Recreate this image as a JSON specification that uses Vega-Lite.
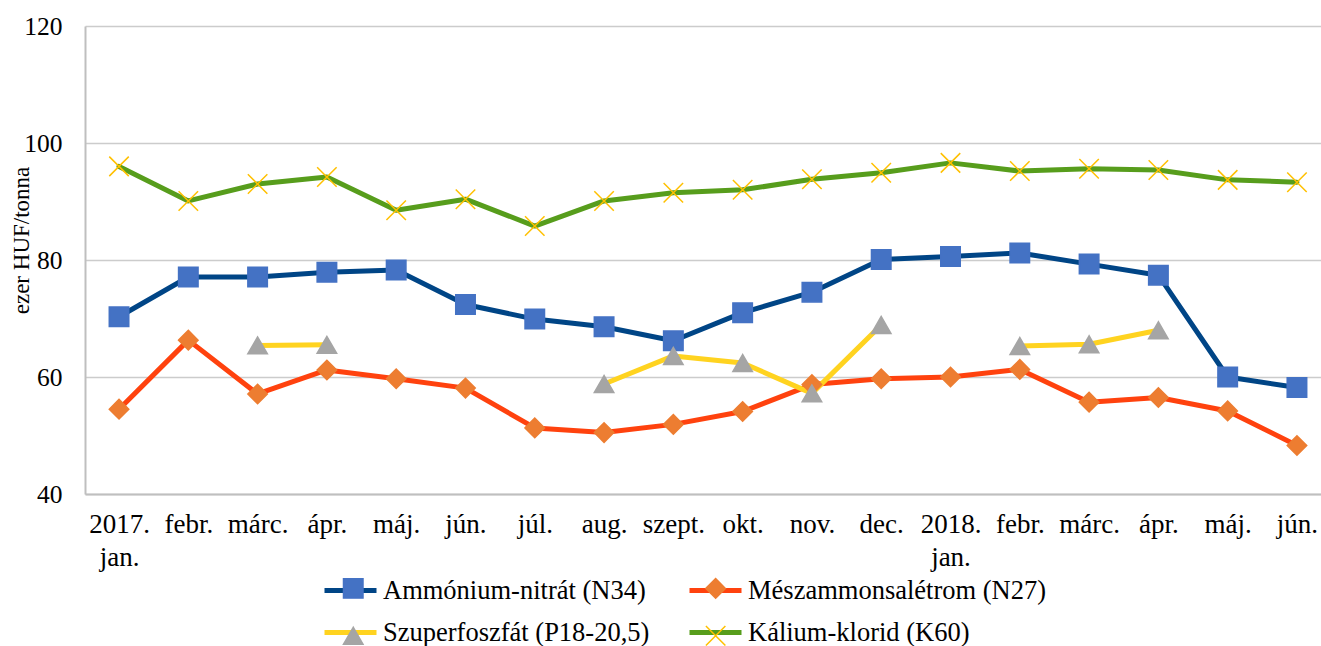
{
  "$schema": "https://vega.github.io/schema/vega-lite/v6.json",
  "width": 1236,
  "height": 468,
  "autosize": {"type": "none"},
  "padding": {"left": 85, "top": 26, "right": 0, "bottom": 152},
  "background": "white",
  "config": {
    "view": {"stroke": null},
    "font": "Liberation Serif",
    "legend": {"padding": 0}
  },
  "data": {
    "values": [
      {"m": "2017-01", "s": "Ammónium-nitrát (N34)", "v": 70.3, "g": "A"},
      {"m": "2017-02", "s": "Ammónium-nitrát (N34)", "v": 77.1, "g": "A"},
      {"m": "2017-03", "s": "Ammónium-nitrát (N34)", "v": 77.1, "g": "A"},
      {"m": "2017-04", "s": "Ammónium-nitrát (N34)", "v": 77.9, "g": "A"},
      {"m": "2017-05", "s": "Ammónium-nitrát (N34)", "v": 78.3, "g": "A"},
      {"m": "2017-06", "s": "Ammónium-nitrát (N34)", "v": 72.4, "g": "A"},
      {"m": "2017-07", "s": "Ammónium-nitrát (N34)", "v": 69.9, "g": "A"},
      {"m": "2017-08", "s": "Ammónium-nitrát (N34)", "v": 68.6, "g": "A"},
      {"m": "2017-09", "s": "Ammónium-nitrát (N34)", "v": 66.2, "g": "A"},
      {"m": "2017-10", "s": "Ammónium-nitrát (N34)", "v": 71.0, "g": "A"},
      {"m": "2017-11", "s": "Ammónium-nitrát (N34)", "v": 74.5, "g": "A"},
      {"m": "2017-12", "s": "Ammónium-nitrát (N34)", "v": 80.1, "g": "A"},
      {"m": "2018-01", "s": "Ammónium-nitrát (N34)", "v": 80.6, "g": "A"},
      {"m": "2018-02", "s": "Ammónium-nitrát (N34)", "v": 81.2, "g": "A"},
      {"m": "2018-03", "s": "Ammónium-nitrát (N34)", "v": 79.3, "g": "A"},
      {"m": "2018-04", "s": "Ammónium-nitrát (N34)", "v": 77.4, "g": "A"},
      {"m": "2018-05", "s": "Ammónium-nitrát (N34)", "v": 60.0, "g": "A"},
      {"m": "2018-06", "s": "Ammónium-nitrát (N34)", "v": 58.2, "g": "A"},
      {"m": "2017-01", "s": "Mészammonsalétrom (N27)", "v": 54.5, "g": "M"},
      {"m": "2017-02", "s": "Mészammonsalétrom (N27)", "v": 66.3, "g": "M"},
      {"m": "2017-03", "s": "Mészammonsalétrom (N27)", "v": 57.1, "g": "M"},
      {"m": "2017-04", "s": "Mészammonsalétrom (N27)", "v": 61.2, "g": "M"},
      {"m": "2017-05", "s": "Mészammonsalétrom (N27)", "v": 59.7, "g": "M"},
      {"m": "2017-06", "s": "Mészammonsalétrom (N27)", "v": 58.1, "g": "M"},
      {"m": "2017-07", "s": "Mészammonsalétrom (N27)", "v": 51.3, "g": "M"},
      {"m": "2017-08", "s": "Mészammonsalétrom (N27)", "v": 50.5, "g": "M"},
      {"m": "2017-09", "s": "Mészammonsalétrom (N27)", "v": 51.9, "g": "M"},
      {"m": "2017-10", "s": "Mészammonsalétrom (N27)", "v": 54.1, "g": "M"},
      {"m": "2017-11", "s": "Mészammonsalétrom (N27)", "v": 58.7, "g": "M"},
      {"m": "2017-12", "s": "Mészammonsalétrom (N27)", "v": 59.7, "g": "M"},
      {"m": "2018-01", "s": "Mészammonsalétrom (N27)", "v": 60.0, "g": "M"},
      {"m": "2018-02", "s": "Mészammonsalétrom (N27)", "v": 61.3, "g": "M"},
      {"m": "2018-03", "s": "Mészammonsalétrom (N27)", "v": 55.7, "g": "M"},
      {"m": "2018-04", "s": "Mészammonsalétrom (N27)", "v": 56.5, "g": "M"},
      {"m": "2018-05", "s": "Mészammonsalétrom (N27)", "v": 54.2, "g": "M"},
      {"m": "2018-06", "s": "Mészammonsalétrom (N27)", "v": 48.3, "g": "M"},
      {"m": "2017-03", "s": "Szuperfoszfát (P18-20,5)", "v": 65.4, "g": "P1"},
      {"m": "2017-04", "s": "Szuperfoszfát (P18-20,5)", "v": 65.5, "g": "P1"},
      {"m": "2017-08", "s": "Szuperfoszfát (P18-20,5)", "v": 58.8, "g": "P2"},
      {"m": "2017-09", "s": "Szuperfoszfát (P18-20,5)", "v": 63.6, "g": "P2"},
      {"m": "2017-10", "s": "Szuperfoszfát (P18-20,5)", "v": 62.4, "g": "P2"},
      {"m": "2017-11", "s": "Szuperfoszfát (P18-20,5)", "v": 57.2, "g": "P2"},
      {"m": "2017-12", "s": "Szuperfoszfát (P18-20,5)", "v": 68.9, "g": "P2"},
      {"m": "2018-02", "s": "Szuperfoszfát (P18-20,5)", "v": 65.3, "g": "P3"},
      {"m": "2018-03", "s": "Szuperfoszfát (P18-20,5)", "v": 65.6, "g": "P3"},
      {"m": "2018-04", "s": "Szuperfoszfát (P18-20,5)", "v": 68.0, "g": "P3"},
      {"m": "2017-01", "s": "Kálium-klorid (K60)", "v": 96.0, "g": "K"},
      {"m": "2017-02", "s": "Kálium-klorid (K60)", "v": 90.1, "g": "K"},
      {"m": "2017-03", "s": "Kálium-klorid (K60)", "v": 93.0, "g": "K"},
      {"m": "2017-04", "s": "Kálium-klorid (K60)", "v": 94.2, "g": "K"},
      {"m": "2017-05", "s": "Kálium-klorid (K60)", "v": 88.5, "g": "K"},
      {"m": "2017-06", "s": "Kálium-klorid (K60)", "v": 90.4, "g": "K"},
      {"m": "2017-07", "s": "Kálium-klorid (K60)", "v": 85.8, "g": "K"},
      {"m": "2017-08", "s": "Kálium-klorid (K60)", "v": 90.1, "g": "K"},
      {"m": "2017-09", "s": "Kálium-klorid (K60)", "v": 91.5, "g": "K"},
      {"m": "2017-10", "s": "Kálium-klorid (K60)", "v": 92.0, "g": "K"},
      {"m": "2017-11", "s": "Kálium-klorid (K60)", "v": 93.8, "g": "K"},
      {"m": "2017-12", "s": "Kálium-klorid (K60)", "v": 94.9, "g": "K"},
      {"m": "2018-01", "s": "Kálium-klorid (K60)", "v": 96.6, "g": "K"},
      {"m": "2018-02", "s": "Kálium-klorid (K60)", "v": 95.2, "g": "K"},
      {"m": "2018-03", "s": "Kálium-klorid (K60)", "v": 95.6, "g": "K"},
      {"m": "2018-04", "s": "Kálium-klorid (K60)", "v": 95.4, "g": "K"},
      {"m": "2018-05", "s": "Kálium-klorid (K60)", "v": 93.7, "g": "K"},
      {"m": "2018-06", "s": "Kálium-klorid (K60)", "v": 93.3, "g": "K"}
    ]
  },
  "encoding": {
    "x": {
      "field": "m",
      "type": "ordinal",
      "scale": {"type": "point", "padding": 0.419, "align": 0.586},
      "axis": {
        "title": null,
        "labelAngle": 0,
        "labelFont": "Liberation Serif",
        "labelFontSize": 27,
        "labelColor": "#000000",
        "labelPadding": 17,
        "labelLineHeight": 33,
        "labelOverlap": false,
        "labelFlush": false,
        "labelBound": false,
        "ticks": false,
        "grid": false,
        "domainColor": "#bfbfbf",
        "domainWidth": 2,
        "labelExpr": "slice(datum.value,5)=='01' ? [slice(datum.value,0,4)+'.', 'jan.'] : ['','febr.','márc.','ápr.','máj.','jún.','júl.','aug.','szept.','okt.','nov.','dec.'][toNumber(slice(datum.value,5))-1]"
      }
    },
    "y": {
      "field": "v",
      "type": "quantitative",
      "scale": {"domain": [40, 120], "nice": false, "zero": false},
      "axis": {
        "values": [40, 60, 80, 100, 120],
        "title": "ezer HUF/tonna",
        "titleFont": "Liberation Serif",
        "titleFontSize": 23,
        "titleFontWeight": "normal",
        "titleColor": "#000000",
        "titleBaseline": "alphabetic",
        "titleX": -57,
        "titleY": 214,
        "labelFont": "Liberation Serif",
        "labelFontSize": 25.5,
        "labelColor": "#000000",
        "labelPadding": 23,
        "ticks": false,
        "grid": true,
        "gridColor": "#cccccc",
        "gridWidth": 1.5,
        "domainColor": "#bfbfbf",
        "domainWidth": 2
      }
    }
  },
  "layer": [
    {
      "mark": {"type": "line", "strokeWidth": 5, "strokeJoin": "round", "strokeCap": "round"},
      "encoding": {
        "color": {
          "field": "s",
          "type": "nominal",
          "scale": {
            "domain": ["Ammónium-nitrát (N34)", "Mészammonsalétrom (N27)", "Szuperfoszfát (P18-20,5)", "Kálium-klorid (K60)"],
            "range": ["#004586", "#ff420e", "#ffd320", "#579d1c"]
          },
          "legend": {
            "title": null,
            "orient": "none",
            "direction": "horizontal",
            "legendX": 237,
            "legendY": 536,
            "columns": 2,
            "columnPadding": 29,
            "rowPadding": -6,
            "symbolType": "stroke",
            "symbolSize": 2704,
            "symbolStrokeWidth": 5,
            "labelOffset": 4,
            "labelFont": "Liberation Serif",
            "labelFontSize": 26.5,
            "labelColor": "#000000",
            "labelLimit": 0
          }
        },
        "detail": {"field": "g"}
      }
    },
    {
      "mark": {"type": "point", "size": 380, "strokeWidth": 1.5, "opacity": 1},
      "encoding": {
        "shape": {
          "field": "s",
          "type": "nominal",
          "sort": null,
          "scale": {"range": ["square", "diamond", "triangle-up", "M-1,-1L1,1M-1,1L1,-1"]},
          "legend": {
            "title": null,
            "orient": "none",
            "direction": "horizontal",
            "legendX": 255,
            "legendY": 549,
            "columns": 2,
            "columnPadding": 335.4,
            "rowPadding": 20.5,
            "symbolSize": 380,
            "symbolStrokeWidth": 1.5,
            "labelOffset": 0,
            "labelFontSize": 26.5,
            "labelExpr": "''"
          }
        },
        "fill": {
          "field": "s",
          "type": "nominal",
          "sort": null,
          "scale": {"range": ["#4472c4", "#ed7d31", "#a5a5a5", "#ffc000"]}
        },
        "stroke": {
          "field": "s",
          "type": "nominal",
          "sort": null,
          "scale": {"range": ["#4472c4", "#ed7d31", "#a5a5a5", "#ffc000"]}
        }
      }
    }
  ]
}
